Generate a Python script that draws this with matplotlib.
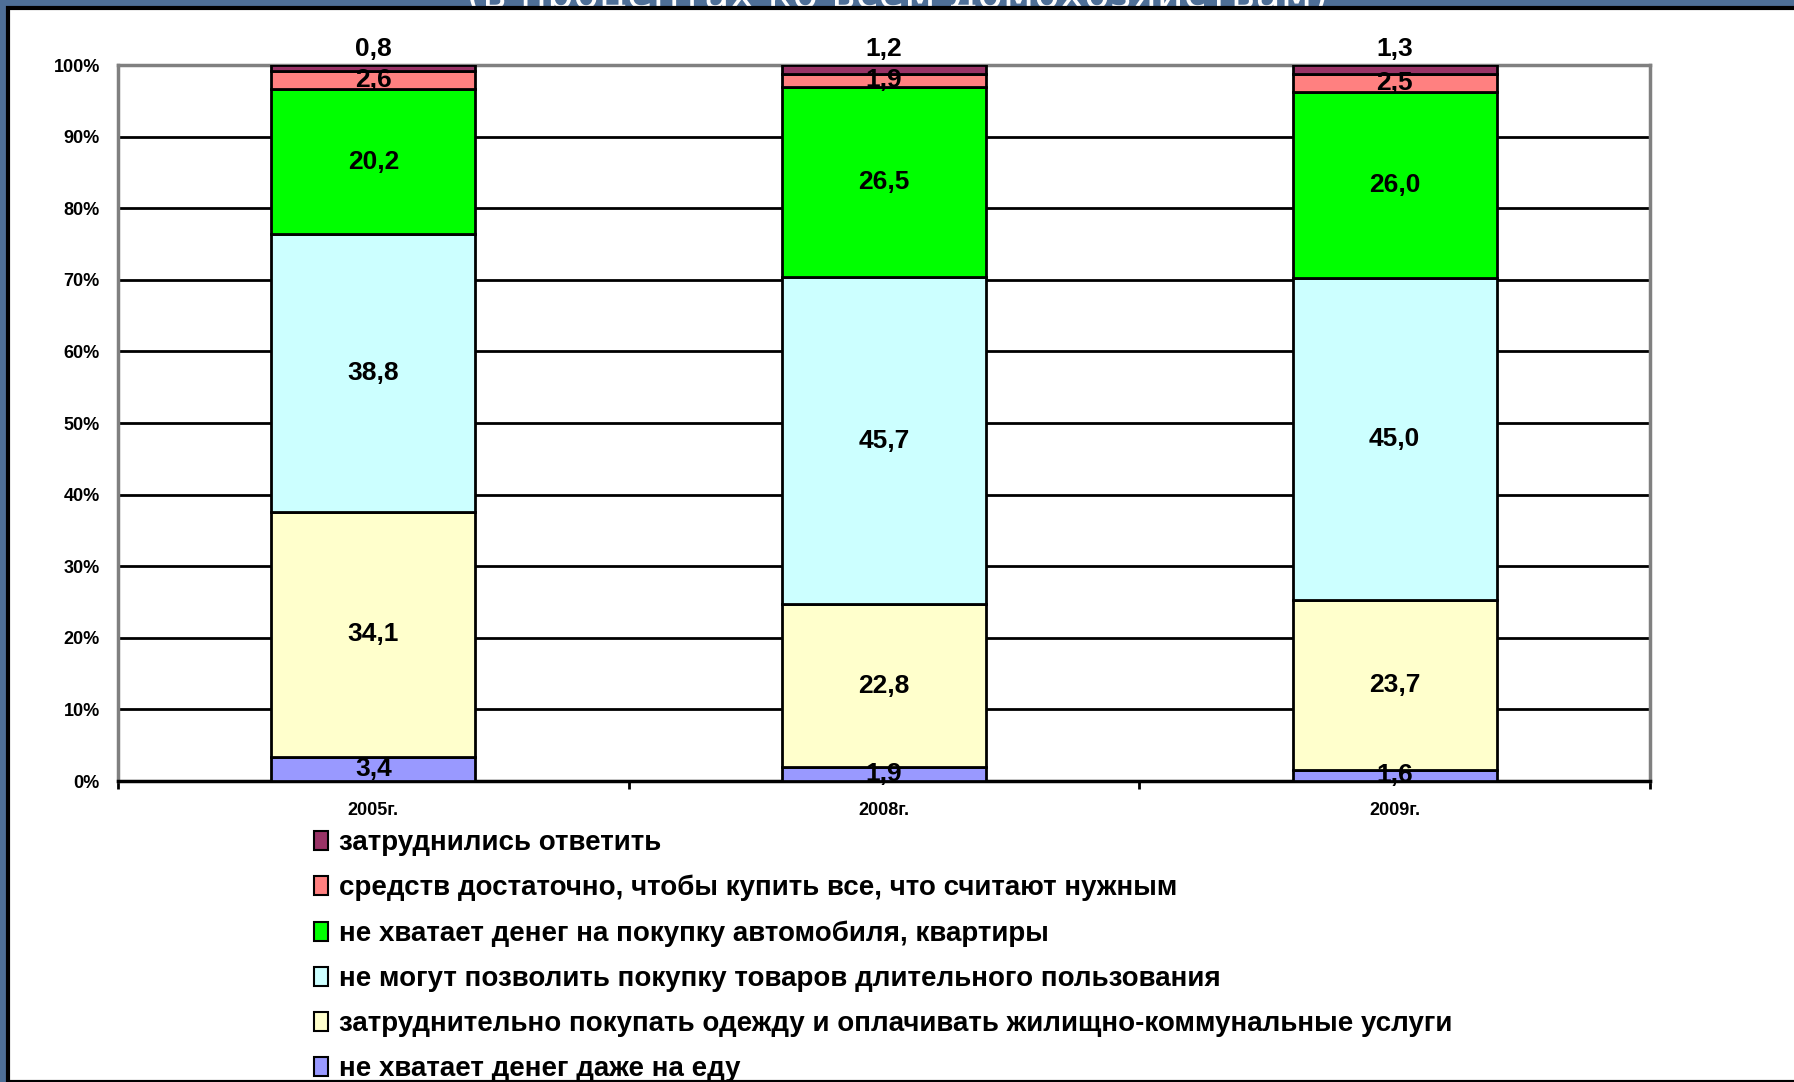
import numpy as np
import matplotlib.pyplot as plt
from matplotlib.patches import Rectangle, Patch

plt.rcParams['font.family'] = ['Liberation Sans', 'DejaVu Sans']

# Data (percent of all households)
years = ['2005г.', '2008г.', '2009г.']
labels = ['не хватает денег даже на еду',
          'затруднительно покупать одежду и оплачивать жилищно-коммунальные услуги',
          'не могут позволить покупку товаров длительного пользования',
          'не хватает денег на покупку автомобиля, квартиры',
          'средств достаточно, чтобы купить все, что считают нужным',
          'затруднились ответить']
food = [3.4, 1.9, 1.6]
clothes = [34.1, 22.8, 23.7]
durables = [38.8, 45.7, 45.0]
car_flat = [20.2, 26.5, 26.0]
enough = [2.6, 1.9, 2.5]
no_answer = [0.8, 1.2, 1.3]
colors = ['#9999FF', '#FFFFCC', '#CCFFFF', '#00FF00', '#FF8080', '#993366']

series = np.array([food, clothes, durables, car_flat, enough, no_answer])
shares = series / series.sum(axis=0) * 100

fig = plt.figure(figsize=(17.94, 10.82), dpi=100)
fig.patch.set_facecolor('#4E6F97')

# title, mostly cut off by the top edge (as in the original slide)
fig.text(0.5, 1.0 - 8 / 1082, '(в процентах ко всем домохозяйствам)', color='white',
         fontsize=30, ha='center', va='baseline', family='DejaVu Sans', zorder=0)
# white panel with black edge
fig.patches.append(Rectangle((8 / 1794, 0), 1, 1 - 8 / 1082, transform=fig.transFigure,
                             facecolor='white', edgecolor='black', linewidth=3, zorder=1))

ax = fig.add_axes([118 / 1794, 301 / 1082, 1532 / 1794, 716 / 1082], zorder=2)
ax.set_facecolor('white')

x = np.arange(len(years)) + 0.5
bottom = np.zeros(len(years))
for i in range(len(labels)):
    ax.bar(x, shares[i], 0.40, bottom=bottom, color=colors[i], edgecolor='black',
           linewidth=2, label=labels[i], zorder=3)
    for j in range(len(years)):
        txt = f'{series[i][j]:.1f}'.replace('.', ',')
        if i == len(labels) - 1:
            yy = 102.3
        else:
            yy = bottom[j] + shares[i][j] / 2
        ax.text(x[j], yy, txt, ha='center', va='center', fontsize=19,
                fontweight='bold', zorder=4, clip_on=False)
    bottom += shares[i]

ax.set_xlim(0, 3)
ax.set_ylim(0, 100)
ax.set_yticks(np.arange(0, 101, 10))
ax.set_yticklabels([f'{v}%' for v in range(0, 101, 10)], fontsize=13, fontweight='bold')
ax.yaxis.grid(True, color='black', linewidth=2, zorder=0)
ax.set_axisbelow(True)
ax.tick_params(axis='y', length=0, pad=13)

ax.set_xticks([0, 1, 2, 3])
ax.set_xticklabels([])
ax.set_xticks(x, minor=True)
ax.set_xticklabels(years, minor=True, fontsize=13, fontweight='bold')
ax.tick_params(axis='x', which='major', length=6, width=2, color='black')
ax.tick_params(axis='x', which='minor', length=0, pad=15)

for s in ['left', 'right', 'top']:
    ax.spines[s].set_color('#808080')
    ax.spines[s].set_linewidth(2.5)
ax.spines['bottom'].set_color('black')
ax.spines['bottom'].set_linewidth(2.5)

handles = [Patch(facecolor=colors[i], edgecolor='black', linewidth=1.5) for i in range(len(labels))][::-1]
leg = fig.legend(handles, labels[::-1], loc='upper left', bbox_to_anchor=(314 / 1794, 1 - 830 / 1082),
                 frameon=False, prop={'size': 20, 'weight': 'bold'}, handlelength=0.5,
                 handleheight=0.7, handletextpad=0.4, labelspacing=0.685, borderpad=0,
                 borderaxespad=0)
leg.set_zorder(5)

fig.savefig('out.png', dpi=100, facecolor=fig.get_facecolor())
